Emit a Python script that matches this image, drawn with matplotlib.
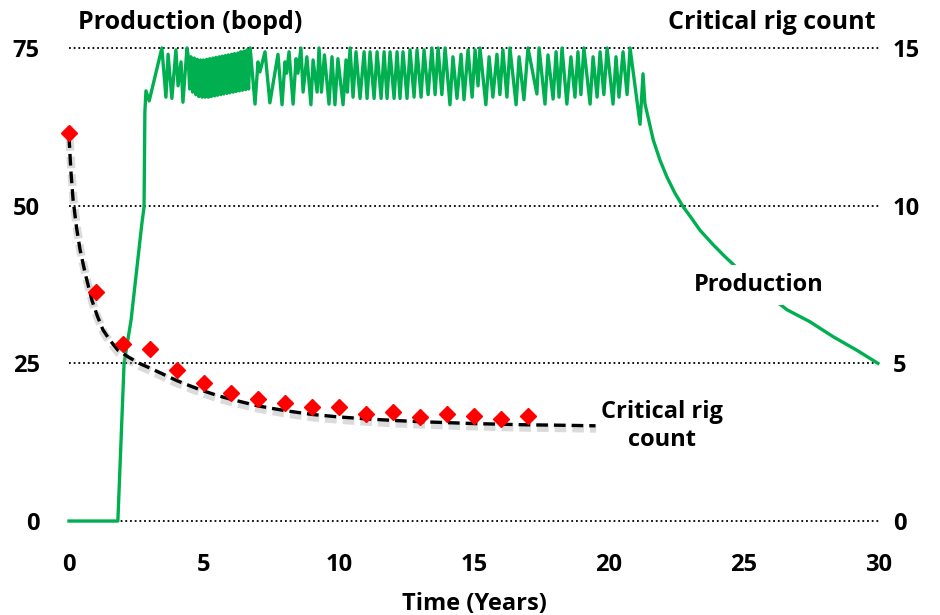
import matplotlib
matplotlib.use("Agg")
import matplotlib.pyplot as plt
import matplotlib.patheffects as pe

plt.rcParams["font.family"] = ["Open Sans", "DejaVu Sans"]
plt.rcParams["font.weight"] = "bold"

# Production (bopd) vs time (years)
prod_t = [0, 1.81, 2.04, 2.30, 2.70, 2.78, 2.81, 2.85, 2.97, 3.44,
          3.59, 3.67, 3.81, 3.96, 4.04, 4.15, 4.22, 4.37,
          4.41, 4.47, 4.52, 4.58, 4.64, 4.70, 4.75, 4.81, 4.87, 4.93,
          4.98, 5.04, 5.10, 5.16, 5.21, 5.27, 5.33, 5.39, 5.44, 5.50,
          5.56, 5.62, 5.67, 5.73, 5.79, 5.85, 5.90, 5.96, 6.02, 6.08,
          6.13, 6.19, 6.25, 6.31, 6.36, 6.42, 6.48, 6.54, 6.59, 6.65, 6.71,
          6.89, 7.00, 7.07, 7.26, 7.44, 7.74, 7.89, 8.00, 8.06, 8.15,
          8.30, 8.41, 8.48, 8.59, 8.67, 8.81, 8.96, 9.04, 9.19, 9.26,
          9.35, 9.46, 9.63, 9.74, 9.85, 9.96, 10.15, 10.26, 10.31, 10.41,
          10.52, 10.63, 10.78, 10.93, 11.04, 11.15, 11.30, 11.41, 11.56, 11.67,
          11.78, 11.89, 12.04, 12.15, 12.26, 12.37, 12.52, 12.63, 12.78, 12.89,
          13.04, 13.15, 13.30, 13.44, 13.56, 13.67, 13.81, 13.93, 14.11, 14.22,
          14.37, 14.52, 14.63, 14.78, 14.93, 15.04, 15.15, 15.22, 15.44, 15.56,
          15.70, 15.85, 15.96, 16.07, 16.22, 16.33, 16.56, 16.67, 16.85, 17.00,
          17.33, 17.41, 17.63, 17.74, 17.93, 18.04, 18.15, 18.26, 18.44, 18.59,
          18.74, 18.85, 18.96, 19.07, 19.30, 19.41, 19.56, 19.67, 19.81, 19.93,
          20.15, 20.26, 20.37, 20.52, 20.67, 20.78, 21.15, 21.26, 21.33, 21.64,
          21.89, 22.14, 22.44, 22.75, 23.06, 23.37, 23.86, 24.30, 24.85, 25.40,
          26.00, 26.59, 27.44, 28.31, 29.17, 29.96]
prod_v = [0, 0, 25.0, 31.9, 47.2, 49.8, 64.8, 68.2, 66.6, 75.0,
          67.2, 74.0, 67.0, 74.7, 69.0, 72.8, 66.4, 75.0,
          73.9, 68.5, 73.6, 68.0, 73.4, 67.6, 73.2, 67.3, 73.1, 67.2,
          73.1, 67.2, 73.2, 67.2, 73.3, 67.3, 73.4, 67.4, 73.5, 67.5,
          73.6, 67.6, 73.7, 67.7, 73.8, 67.8, 73.9, 67.9, 74.0, 68.0,
          74.1, 68.1, 74.2, 68.2, 74.4, 68.3, 74.5, 68.4, 74.7, 68.5, 75.0,
          66.1, 72.8, 71.2, 74.4, 66.3, 74.0, 66.0, 72.8, 71.0, 74.4,
          66.1, 73.3, 71.0, 75.0, 68.0, 73.6, 66.0, 73.1, 68.0, 75.0,
          68.0, 73.9, 66.1, 73.6, 66.0, 73.3, 66.0, 73.1, 68.0, 75.0,
          67.2, 74.4, 67.0, 74.4, 67.0, 74.4, 67.0, 74.4, 67.0, 74.4,
          67.0, 74.4, 67.0, 74.4, 67.0, 74.4, 67.0, 74.7, 67.2, 74.7,
          67.2, 74.7, 67.6, 75.0, 67.6, 75.0, 67.6, 75.0, 66.0, 73.6,
          67.0, 74.0, 66.8, 74.7, 67.2, 74.7, 69.0, 75.0, 66.0, 73.6,
          67.2, 74.0, 67.6, 74.7, 67.2, 75.0, 66.0, 73.6, 66.8, 75.0,
          67.7, 75.0, 66.1, 73.9, 66.9, 74.4, 67.2, 75.0, 66.1, 73.6,
          67.2, 74.4, 67.6, 75.0, 66.1, 73.6, 67.2, 74.4, 67.6, 75.0,
          66.1, 73.6, 67.2, 74.4, 67.6, 75.0, 62.9, 70.9, 66.2, 60.4,
          57.2, 54.6, 52.0, 49.8, 48.0, 46.1, 43.8, 41.9, 39.7, 37.6,
          35.5, 33.5, 31.6, 29.2, 27.1, 25.0]

# Critical rig count (right axis)
rig_years = [0, 1, 2, 3, 4, 5, 6, 7, 8, 9, 10, 11, 12, 13, 14, 15, 16, 17]
rig_count = [12.3, 7.27, 5.61, 5.45, 4.79, 4.38, 4.06, 3.86, 3.73, 3.62,
             3.62, 3.39, 3.47, 3.29, 3.39, 3.33, 3.22, 3.33]

# Fitted trend for critical rig count (dashed)
fit_t = [0, 0.07, 0.15, 0.28, 0.41, 0.6, 0.85, 1.05, 1.26, 1.5, 1.81, 2.2,
         2.6, 3, 3.5, 4, 4.5, 5, 5.5, 6, 7, 8, 9, 10, 11, 12, 13, 14, 15,
         16, 17, 18, 19.5]
fit_v = [12.2, 11.1, 10.2, 9.3, 8.6, 7.85, 7.0, 6.5, 6.06, 5.75, 5.42, 5.2,
         5.0, 4.85, 4.65, 4.45, 4.28, 4.12, 3.98, 3.86, 3.65, 3.5, 3.38, 3.3,
         3.24, 3.19, 3.15, 3.12, 3.09, 3.07, 3.05, 3.04, 3.02]

green = "#00B050"

fig = plt.figure(figsize=(9.4, 6.15), dpi=100)
ax = fig.add_axes([0.0734, 0.1528, 0.8617, 0.7692])
ax2 = ax.twinx()

ax.set_xlim(0, 30)
ax.set_ylim(0, 75)
ax2.set_ylim(0, 15)

# dotted gridlines
for yv in [0, 25, 50, 75]:
    ax.plot([0, 30], [yv, yv], color="black", linestyle=(0, (1, 1.6)),
            linewidth=1.3, clip_on=False, zorder=1)

ax.plot(prod_t, prod_v, color=green, linewidth=2.4, clip_on=False,
        solid_joinstyle="round", zorder=3)

ax2.plot(fit_t, fit_v, color="black", linewidth=2.4, linestyle=(0, (3.5, 1.8)),
         clip_on=False, zorder=2,
         path_effects=[pe.SimpleLineShadow(offset=(0.5, -2), shadow_color="#999999",
                                           alpha=0.35, linewidth=6),
                       pe.Normal()])
ax2.plot(rig_years, rig_count, linestyle="none", marker="D", markersize=8,
         color="red", markeredgecolor="red", clip_on=False, zorder=4)

for a in (ax, ax2):
    for s in a.spines.values():
        s.set_visible(False)
    a.tick_params(length=0, labelsize=17)

ax.set_xticks([0, 5, 10, 15, 20, 25, 30])
ax.set_yticks([0, 25, 50, 75])
ax2.set_yticks([0, 5, 10, 15])
ax.tick_params(axis="x", pad=23)
ax.tick_params(axis="y", pad=21)
ax2.tick_params(axis="y", pad=10)
for lab in ax.get_xticklabels() + ax.get_yticklabels() + ax2.get_yticklabels():
    lab.set_fontweight("bold")

ax.set_xlabel("Time (Years)", fontsize=17, fontweight="bold", labelpad=11)

fig.text(0.083, 0.964, "Production (bopd)", fontsize=18, fontweight="bold",
         va="center", ha="left")
fig.text(0.931, 0.964, "Critical rig count", fontsize=18, fontweight="bold",
         va="center", ha="right")

ax.text(25.56, 37.4, "Production", fontsize=17, fontweight="bold", ha="center",
        va="center", zorder=5,
        bbox=dict(facecolor="white", edgecolor="none", pad=6))
ax.text(21.95, 15.1, "Critical rig\ncount", fontsize=17, fontweight="bold",
        ha="center", va="center", linespacing=1.25, zorder=5)

fig.savefig("out.png", dpi=100)
